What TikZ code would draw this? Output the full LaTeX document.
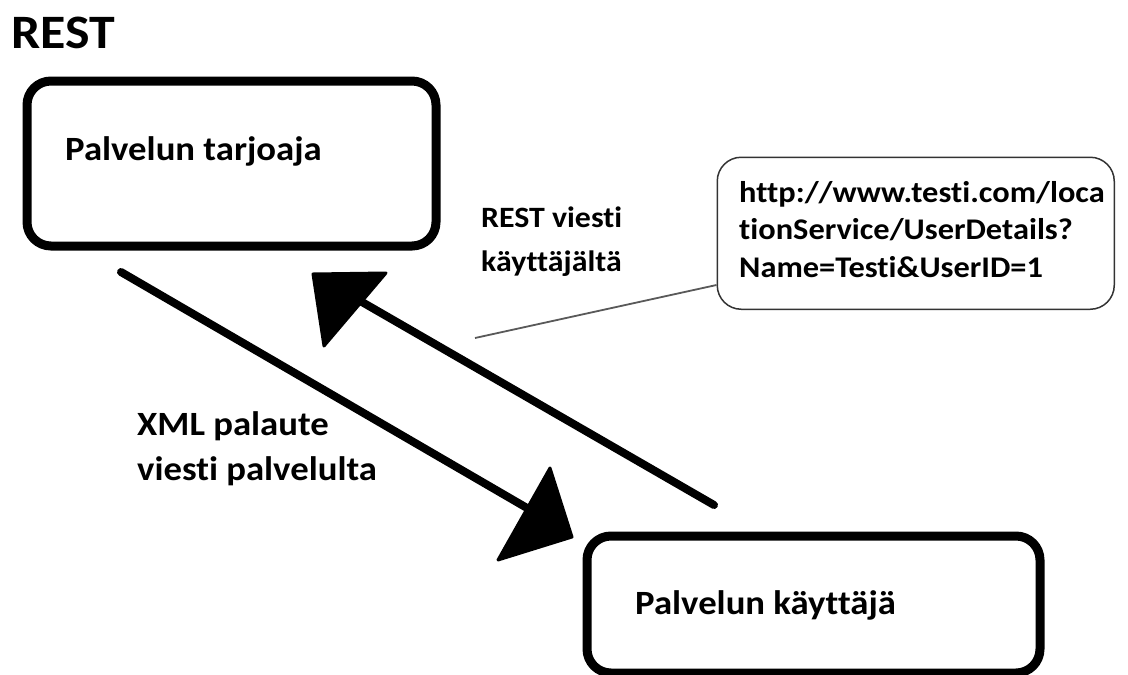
\documentclass[tikz,border=0pt]{standalone}
\usepackage{fontspec}
\setmainfont{Carlito}[FakeStretch=1.08, Ligatures=NoCommon]
\begin{document}
\begin{tikzpicture}[x=1pt,y=-1pt,
  bigbox/.style={draw=black, line width=9pt, rounded corners=24pt, inner sep=0pt, anchor=north west},
  callbox/.style={draw=black!80, line width=1.5pt, rounded corners=24pt, inner sep=0pt, anchor=north west},
  lbl/.style={font=\bfseries\fontsize{34}{42}\selectfont, inner sep=0pt, align=left, anchor=base west, text=black},
  calltxt/.style={font=\bfseries\fontsize{30}{37.5}\selectfont, inner sep=0pt, align=left, anchor=base west, text=black},
  arrowline/.style={line width=8pt, line cap=round},
  head/.style={fill=black, draw=black, line width=3pt, line join=round},
  leader/.style={draw=black!65, line width=1.8pt}]
\useasboundingbox (0,0) rectangle (1128,675);

% title
\node[font=\bfseries\fontsize{48}{56}\selectfont, inner sep=0pt, anchor=base west] (title) at (11,48) {REST};

% boxes
\node[bigbox, minimum width=409pt, minimum height=165pt] (prov) at (22.5,76.5) {};
\node[lbl] (provt) at (65,160) {Palvelun tarjoaja};

\node[bigbox, minimum width=453pt, minimum height=137pt] (user) at (582.5,531.5) {};
\node[lbl] (usert) at (635,614) {Palvelun käyttäjä};

% callout
\node[callbox, minimum width=397pt, minimum height=152pt] (call) at (716.5,156.5) {};
\node[calltxt] (callt) at (739,277) {http://www.testi.com/loca\\tionService/UserDetails?\\Name=Testi\&UserID=1};

% labels (anchor = baseline of last line)
\node[lbl, font=\bfseries\fontsize{29.5}{44}\selectfont] (req) at (481,271) {REST viesti\\käyttäjältä};
\node[lbl, font=\bfseries\fontsize{34}{45}\selectfont] (resp) at (137,480) {XML palaute\\viesti palvelulta};

% arrow 1: reply from provider to user
\coordinate (a1s) at (121,272);
\coordinate (a1e) at (527,508);
\draw[arrowline] (a1s) -- (a1e);
\filldraw[head] (550,468) -- (572,537) -- (498,560) -- cycle;

% arrow 2: request from user to provider
\coordinate (a2s) at (714,505);
\coordinate (a2e) at (362,302);
\draw[arrowline] (a2s) -- (a2e);
\filldraw[head] (313,274) -- (386,273) -- (324,346) -- cycle;

% leader line from callout
\coordinate (l1) at (716.5,285);
\coordinate (l2) at (475,338);
\draw[leader] (l1) -- (l2);
\end{tikzpicture}
\end{document}
